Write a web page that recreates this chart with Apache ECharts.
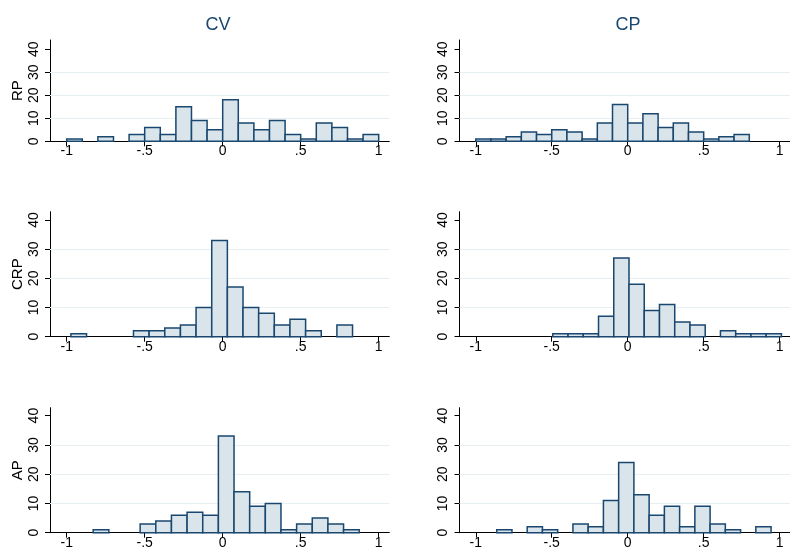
<!DOCTYPE html>
<html>
<head>
<meta charset="utf-8">
<script src="https://cdn.jsdelivr.net/npm/echarts@6/dist/echarts.min.js"></script>
<style>
  html, body { margin: 0; padding: 0; background: #fff; }
  #chart { width: 790px; height: 552px; }
</style>
</head>
<body>
<div id="chart"></div>
<script>
// Column and row labels of the histogram matrix
const columnTitles = ['CV', 'CP'];
const rowTitles = ['RP', 'CRP', 'AP'];

// Axis ticks
const xTicks = [-1, -0.5, 0, 0.5, 1];
const yTicks = [0, 10, 20, 30, 40];
const gridLevels = [10, 20, 30];

// Histogram bins: first edge, bin width and frequency per bin
const rpCvStart = -1,     rpCvWidth = 0.1;
const rpCvCounts = [1, 0, 2, 0, 3, 6, 3, 15, 9, 5, 18, 8, 5, 9, 3, 1, 8, 6, 1, 3];

const rpCpStart = -1,     rpCpWidth = 0.1;
const rpCpCounts = [1, 1, 2, 4, 3, 5, 4, 1, 8, 16, 8, 12, 6, 8, 4, 1, 2, 3];

const crpCvStart = -0.973, crpCvWidth = 0.1003;
const crpCvCounts = [1, 0, 0, 0, 2, 2, 3, 4, 10, 33, 17, 10, 8, 4, 6, 2, 0, 4];

const crpCpStart = -0.493, crpCpWidth = 0.1003;
const crpCpCounts = [1, 1, 1, 7, 27, 18, 9, 11, 5, 4, 0, 2, 1, 1, 1];

const apCvStart = -0.83,  apCvWidth = 0.1003;
const apCvCounts = [1, 0, 0, 3, 4, 6, 7, 6, 33, 14, 9, 10, 1, 3, 5, 3, 1];

const apCpStart = -0.862, apCpWidth = 0.1003;
const apCpCounts = [1, 0, 2, 1, 0, 3, 2, 11, 24, 13, 6, 9, 2, 9, 3, 1, 0, 2];

const panels = [
  { start: rpCvStart,  width: rpCvWidth,  counts: rpCvCounts,  row: 0, col: 0 },
  { start: rpCpStart,  width: rpCpWidth,  counts: rpCpCounts,  row: 0, col: 1 },
  { start: crpCvStart, width: crpCvWidth, counts: crpCvCounts, row: 1, col: 0 },
  { start: crpCpStart, width: crpCpWidth, counts: crpCpCounts, row: 1, col: 1 },
  { start: apCvStart,  width: apCvWidth,  counts: apCvCounts,  row: 2, col: 0 },
  { start: apCpStart,  width: apCpWidth,  counts: apCpCounts,  row: 2, col: 1 }
];

// Layout
const colLeft = [50, 459.5];
const colWidth = 339.3;
const rowTop = [40, 211.7, 407.7];
const rowHeight = [101.3, 125, 125];
const rowYMax = [44, 42.85, 42.7];
const xMin = -1.107, xMax = 1.068;
const titleCenter = [213, 623];

const NAVY = '#1a476f';
const FILL = '#d9e5eb';
const FONT = '"Liberation Sans", Arial, sans-serif';

function fmtX(v) {
  if (v === 0) return '0';
  return String(v).replace('0.', '.');
}

function binsOf(p) {
  const out = [];
  p.counts.forEach((c, i) => {
    if (c > 0) out.push([p.start + i * p.width, p.start + (i + 1) * p.width, c]);
  });
  return out;
}

const grid = [], xAxis = [], yAxis = [], series = [];

panels.forEach((p, k) => {
  grid.push({
    left: colLeft[p.col], top: rowTop[p.row],
    width: colWidth, height: rowHeight[p.row],
    containLabel: false
  });
  xAxis.push({
    type: 'value', gridIndex: k, min: xMin, max: xMax,
    axisLine: { show: true, onZero: false, lineStyle: { color: '#000', width: 1 } },
    axisTick: { show: true, length: 5, customValues: xTicks, lineStyle: { color: '#000' } },
    axisLabel: {
      customValues: xTicks, formatter: fmtX, margin: 3,
      color: '#000', fontSize: 14, fontFamily: FONT
    },
    splitLine: { show: false }
  });
  yAxis.push({
    type: 'value', gridIndex: k, min: 0, max: rowYMax[p.row],
    name: p.col === 0 ? rowTitles[p.row] : '',
    nameLocation: 'middle', nameGap: 25, nameRotate: 90,
    nameTextStyle: { color: '#000', fontSize: 15, fontFamily: FONT },
    axisLine: { show: true, onZero: false, lineStyle: { color: '#000', width: 1 } },
    axisTick: { show: true, length: 5, customValues: yTicks, lineStyle: { color: '#000' } },
    axisLabel: {
      customValues: yTicks, rotate: 90, margin: 9,
      color: '#000', fontSize: 14, fontFamily: FONT
    },
    splitLine: { show: false }
  });
  // horizontal reference lines behind the bars
  series.push({
    type: 'line', xAxisIndex: k, yAxisIndex: k, data: [], silent: true, z: 1,
    markLine: {
      silent: true, symbol: 'none', label: { show: false }, z: 1,
      lineStyle: { color: '#e8eff2', width: 1, type: 'solid' },
      emphasis: { disabled: true },
      animation: false,
      data: gridLevels.map(v => ({ yAxis: v }))
    }
  });
  series.push({
    type: 'custom', xAxisIndex: k, yAxisIndex: k, z: 10,
    data: binsOf(p),
    encode: { x: [0, 1], y: 2 },
    renderItem: function (params, api) {
      const p0 = api.coord([api.value(0), 0]);
      const p1 = api.coord([api.value(1), api.value(2)]);
      return {
        type: 'rect',
        shape: { x: p0[0], y: p1[1], width: p1[0] - p0[0], height: p0[1] - p1[1] },
        style: { fill: FILL, stroke: NAVY, lineWidth: 1.5 }
      };
    }
  });
});

const title = columnTitles.map((t, c) => ({
  text: t,
  left: titleCenter[c],
  top: 11,
  textAlign: 'center',
  textStyle: { color: NAVY, fontSize: 18, fontWeight: 'normal', fontFamily: FONT }
}));

const chart = echarts.init(document.getElementById('chart'), null, { renderer: 'canvas' });
chart.setOption({
  animation: false,
  backgroundColor: '#fff',
  title: title,
  grid: grid,
  xAxis: xAxis,
  yAxis: yAxis,
  series: series
});
</script>
</body>
</html>
